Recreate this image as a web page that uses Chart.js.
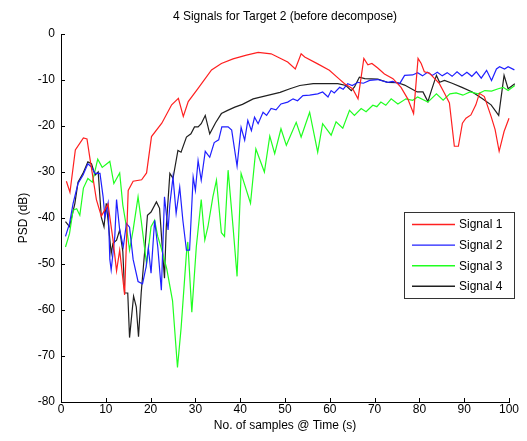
<!DOCTYPE html>
<html><head><meta charset="utf-8">
<script src="https://cdn.jsdelivr.net/npm/chart.js@4/dist/chart.umd.min.js"></script>
<style>html,body{margin:0;padding:0;background:#fff;}#wrap{width:527px;height:441px;position:relative;}</style>
</head><body><div id="wrap"><canvas id="c" width="527" height="441"></canvas></div>
<script>
const titleText = '4 Signals for Target 2 (before decompose)';
const xLabel = 'No. of samples @ Time (s)';
const yLabel = 'PSD (dB)';
const xTicks = [0,10,20,30,40,50,60,70,80,90,100];
const yTicks = [-80,-70,-60,-50,-40,-30,-20,-10,0];
const seriesNames = ['Signal 1','Signal 2','Signal 3','Signal 4'];
const seriesColors = ['#ff2020','#2020ff','#20ff20','#202020'];

const signal1 = [[1.2,-32],[2,-34.4],[3.2,-25.2],[5,-22.6],[5.8,-22.8],[6.5,-27.3],[7.9,-36],[9,-39.6],[10.5,-37],[11.6,-44.7],[12.4,-51.5],[13.1,-47],[14.2,-56.7],[15,-34],[16.1,-32],[18,-31.7],[19.1,-30.2],[20.2,-22.3],[22.5,-19.4],[24.7,-15.4],[26.2,-14],[27.3,-17.9],[28.4,-14.7],[30.6,-11.8],[33.6,-7.8],[35.8,-6.4],[38.4,-5.4],[41.4,-4.6],[44,-4],[46.9,-4.3],[50.6,-6.1],[52.3,-7.6],[53.6,-4.3],[54.4,-5],[57.3,-6.5],[59.9,-7.9],[62,-9.7],[63.3,-10.8],[65.1,-11.9],[66.3,-14.1],[67.6,-5.3],[68.5,-6.7],[69.4,-6.4],[70.7,-7.4],[72.2,-8.7],[74.1,-9.7],[75.9,-11.6],[77.4,-14.1],[78.7,-17.3],[79.7,-5.3],[80.4,-6.4],[81.1,-8.2],[82.2,-8.5],[83.3,-9.6],[84.4,-10.7],[85.6,-12.9],[86.7,-15],[87.8,-24.4],[88.7,-24.4],[89.6,-19.4],[90.4,-18.3],[91.5,-17.6],[92.6,-15.4],[93.4,-12.9],[94.5,-13.6],[96,-17.9],[96.9,-20.8],[97.8,-25.5],[98.9,-21.2],[100,-18.3],[101.2,-18.1]];

const signal2 = [[1,-44],[1.9,-41.2],[2.7,-36.8],[3.8,-32.5],[4.9,-30.7],[6,-28.2],[6.8,-28.9],[7.6,-30.3],[8.7,-30.3],[9.4,-35.4],[9.8,-39.8],[10.5,-36.8],[10.9,-49],[11.2,-51.3],[12,-44.1],[12.4,-36],[13.1,-42.6],[13.9,-46.3],[14.6,-41.2],[15.3,-42],[16.1,-49],[17.2,-53.8],[18.2,-54.3],[19,-50.6],[19.5,-46.5],[20.1,-52],[20.9,-40.5],[21.6,-46.3],[22.4,-55.7],[23.1,-35.4],[23.9,-42.6],[24.3,-37],[25,-31.1],[25.7,-39],[26.5,-33.3],[27.2,-40.5],[28,-47],[28.7,-47],[29.5,-31.1],[30,-34],[30.6,-27.5],[31.3,-31.8],[32.2,-25.5],[33.2,-26.8],[34.2,-23.6],[35.2,-23],[35.9,-20.2],[37.3,-20.2],[38.1,-20.9],[39.3,-28.7],[40.2,-20.3],[41,-23.1],[41.7,-18.8],[42.5,-21],[43.2,-18.1],[44,-19.5],[45.1,-17],[45.9,-17.7],[46.9,-16.2],[48,-16.5],[49.1,-15.2],[50.6,-14.8],[51.8,-14.1],[52.8,-14.5],[54,-13.4],[55.5,-13.3],[57.3,-13],[58.4,-12.6],[59.6,-13.7],[60.3,-12.3],[61,-12.8],[62.2,-11.6],[63,-12],[64,-10.8],[65,-11.2],[66.3,-10.5],[67.5,-10.7],[68.9,-10.1],[70.7,-9.9],[72.9,-10.5],[74,-10.3],[75.6,-10.8],[76.7,-9],[78.5,-8.9],[79.6,-8.4],[80.7,-9.1],[81.8,-8.3],[82.9,-9],[84,-8.3],[85.1,-9.1],[86.2,-8.4],[87.3,-9.2],[88.4,-8.2],[89.5,-9.1],[90.6,-8.3],[91.7,-9.2],[92.7,-8.2],[93.8,-9.6],[95,-7.9],[96.1,-10.1],[97.2,-7.6],[97.9,-7.1],[99,-7.6],[99.8,-7.1],[101.2,-7.8]];

const signal3 = [[1,-46.3],[1.9,-43.4],[2.7,-38.3],[3.5,-38],[4.2,-39.4],[5,-33.5],[6,-31.4],[7,-32.2],[8.2,-27.2],[9.2,-29],[10.9,-27.7],[11.8,-32.5],[13.1,-30.2],[13.8,-37.2],[14.6,-41.9],[15.3,-47],[16.1,-42.6],[17.2,-35.4],[17.9,-40.5],[19.1,-50],[20.1,-41.9],[20.9,-40.5],[21.6,-44],[22.5,-47],[23.6,-51],[24.9,-58],[26,-72.5],[26.8,-64],[28,-47.7],[28.3,-45.2],[29.2,-60.5],[30.2,-46.3],[31.3,-36],[32.1,-44.8],[32.8,-41.9],[33.9,-35.4],[34.7,-31.8],[35.8,-43.2],[36.5,-44],[37.3,-29.6],[38.4,-41.9],[39.3,-52.7],[40.2,-30.3],[42.3,-36.8],[43.5,-25],[45.4,-30],[46.6,-22.2],[47.7,-26],[49.1,-20.6],[50.3,-24.2],[52.5,-19.2],[53.6,-22.4],[55.5,-17],[57.3,-25.7],[58.4,-19.5],[60.3,-22],[61.4,-19.1],[62.9,-20.5],[64.4,-16.6],[65.5,-17.7],[67,-16.2],[68.1,-16.9],[69.6,-15.5],[70.5,-15.8],[71.4,-14.8],[72.5,-15.5],[73.7,-14.1],[75.2,-15.2],[77,-14.1],[78.5,-14.4],[79.6,-13.7],[81.9,-14.8],[83.8,-13],[85.3,-14.4],[86.8,-13],[88.2,-12.8],[89.7,-13.3],[91.3,-12.6],[93.1,-13],[94.6,-12.3],[96.1,-12.4],[97.6,-11.9],[98.7,-11.6],[99.8,-12.3],[101.3,-11.2]];

const signal4 = [[1,-40.8],[1.9,-41.9],[3.1,-36.8],[3.8,-32.2],[4.9,-30.3],[6,-27.8],[6.8,-28.2],[7.6,-30.7],[8.3,-30],[9,-39.8],[9.6,-41.9],[10.1,-36.8],[10.5,-40.5],[11.2,-47.7],[11.6,-45.5],[12.4,-44.8],[13.1,-42.6],[13.8,-47.3],[14.2,-56.3],[14.9,-56.3],[15.3,-66],[16.2,-57],[16.8,-59.3],[17.3,-65.8],[17.9,-56.3],[18.7,-47],[19.3,-39.4],[20.1,-38.7],[21.3,-36.5],[22,-37.9],[22.8,-49.2],[23.1,-53.1],[23.5,-41.9],[24.3,-30.3],[25,-31.4],[26.1,-25.3],[26.8,-25.7],[28,-22.4],[29,-21.7],[29.8,-20.2],[30.6,-20.2],[31.3,-19.5],[32.2,-17.7],[33.2,-21.7],[34.5,-19.3],[35.8,-17.3],[37.2,-16.6],[38.8,-15.9],[40.5,-15.3],[42.9,-14.1],[45.9,-13.4],[48.9,-12.7],[51.1,-11.9],[53.3,-11.2],[56.3,-10.8],[59.3,-10.8],[61.8,-10.8],[63.6,-11.2],[64.8,-12.3],[65.5,-11.5],[66.6,-9.4],[67.8,-9.7],[70.7,-9.8],[72.9,-10.5],[75.2,-10.6],[76.7,-11.1],[78.2,-11.9],[79.5,-12.6],[80.8,-12.6],[81.9,-14.7],[82.7,-12.2],[83.8,-9],[84.5,-10.5],[85.6,-10.1],[87.3,-10.7],[89.5,-11.6],[91.8,-12.6],[94,-14],[96,-15.4],[97.7,-17.7],[98.9,-9],[99.8,-11.9],[101.3,-10.8]];

const allSeries = [signal1, signal2, signal3, signal4];
const FONT = '"Liberation Sans", Arial, sans-serif';

const decorPlugin = {
  id: 'decor',
  afterDraw(chart) {
    const ctx = chart.ctx, a = chart.chartArea;
    const xs = chart.scales.x, ys = chart.scales.y;
    ctx.save();
    ctx.strokeStyle = '#000'; ctx.lineWidth = 1;
    ctx.beginPath();
    xTicks.forEach(v => { const p = Math.round(xs.getPixelForValue(v)) + 0.5; ctx.moveTo(p, a.bottom); ctx.lineTo(p, a.bottom - 4); });
    yTicks.forEach(v => { const p = Math.round(ys.getPixelForValue(v)) + 0.5; ctx.moveTo(a.left, p); ctx.lineTo(a.left + 4, p); });
    ctx.stroke();
    ctx.fillStyle = '#000';
    ctx.font = '12px ' + FONT;
    ctx.textAlign = 'center'; ctx.textBaseline = 'middle';
    ctx.fillText(titleText, (a.left + a.right) / 2, 17);
    ctx.fillText(xLabel, (a.left + a.right) / 2, 426);
    ctx.save();
    ctx.translate(24, (a.top + a.bottom) / 2);
    ctx.rotate(-Math.PI / 2);
    ctx.fillText(yLabel, 0, 0);
    ctx.restore();
    // legend
    const lx = 404, ly = 212, lw = 110, lh = 86;
    ctx.fillStyle = '#fff';
    ctx.fillRect(lx, ly, lw, lh);
    ctx.strokeStyle = '#333';
    ctx.strokeRect(lx + 0.5, ly + 0.5, lw, lh);
    ctx.textAlign = 'left';
    seriesNames.forEach((n, i) => {
      const y = 224.5 + i * 20.6;
      ctx.strokeStyle = seriesColors[i];
      ctx.lineWidth = 1.4;
      ctx.beginPath(); ctx.moveTo(412, y); ctx.lineTo(455, y); ctx.stroke();
      ctx.fillStyle = '#000';
      ctx.fillText(n, 459, y + 0.5);
    });
    ctx.restore();
  }
};

new Chart(document.getElementById('c'), {
  type: 'line',
  data: {
    datasets: allSeries.map((s, i) => ({
      label: seriesNames[i],
      data: s.map(p => ({x: p[0], y: p[1]})),
      borderColor: seriesColors[i],
      borderWidth: 1.2,
      pointRadius: 0,
      tension: 0,
      fill: false,
      clip: false
    }))
  },
  options: {
    responsive: false,
    animation: false,
    events: [],
    layout: { padding: { top: 34, right: 18, left: 0, bottom: 0 } },
    plugins: { legend: { display: false }, title: { display: false }, tooltip: { enabled: false } },
    scales: {
      x: {
        type: 'linear', min: 0, max: 100,
        afterBuildTicks: s => { s.ticks = xTicks.map(v => ({value: v})); },
        afterFit: s => { s.height = 39; },
        grid: { display: false, drawTicks: false },
        border: { display: true, color: '#000', width: 1 },
        ticks: { color: '#000', font: { family: FONT, size: 12 }, padding: 0, maxRotation: 0, autoSkip: false }
      },
      y: {
        type: 'linear', min: -80, max: 0,
        afterBuildTicks: s => { s.ticks = yTicks.map(v => ({value: v})); },
        afterFit: s => { s.width = 61; },
        grid: { display: false, drawTicks: false },
        border: { display: true, color: '#000', width: 1 },
        ticks: { color: '#000', font: { family: FONT, size: 12 }, padding: 6, autoSkip: false }
      }
    }
  },
  plugins: [decorPlugin]
});
</script></body></html>
